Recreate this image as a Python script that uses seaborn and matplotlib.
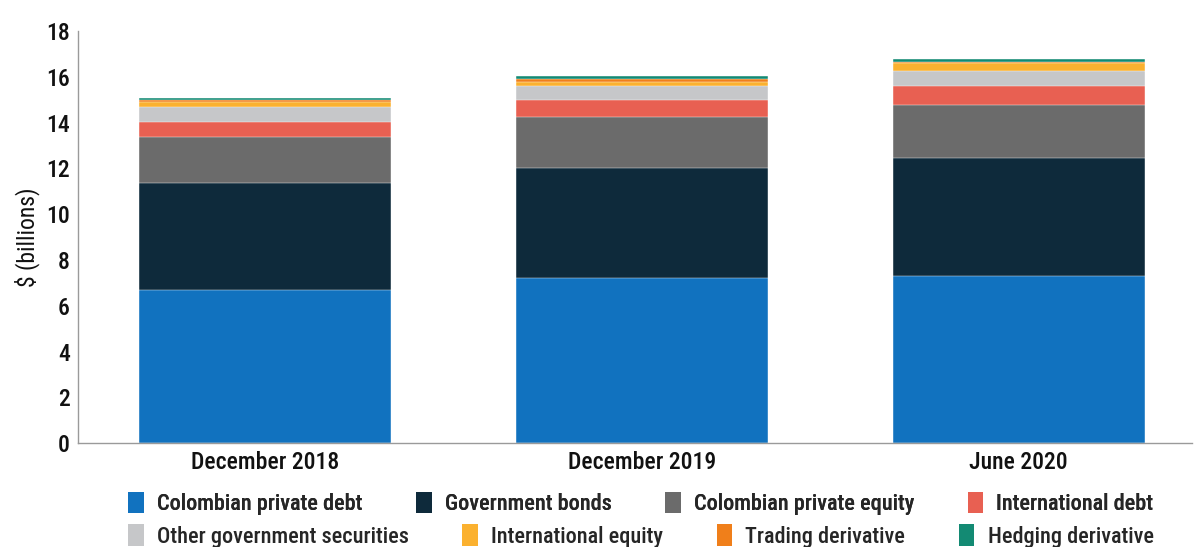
import matplotlib
matplotlib.use("Agg")
import matplotlib.pyplot as plt
import seaborn as sns
import numpy as np
import pandas as pd
from matplotlib.patches import Patch
from matplotlib import font_manager

categories = ["December 2018", "December 2019", "June 2020"]
series_names = ["Colombian private debt", "Government bonds", "Colombian private equity",
                "International debt", "Other government securities", "International equity",
                "Trading derivative", "Hedging derivative"]
colombian_private_debt = [6.68, 7.21, 7.30]
government_bonds = [4.68, 4.80, 5.15]
colombian_private_equity = [2.02, 2.25, 2.32]
international_debt = [0.66, 0.72, 0.84]
other_government_securities = [0.63, 0.63, 0.64]
international_equity = [0.23, 0.18, 0.36]
trading_derivative = [0.08, 0.14, 0.06]
hedging_derivative = [0.12, 0.13, 0.13]
colors = ["#1172BF", "#0E2A3B", "#6B6B6B", "#E86052", "#C6C7C9", "#FBB12F", "#F07F1A", "#138A73"]

values = [colombian_private_debt, government_bonds, colombian_private_equity,
          international_debt, other_government_securities, international_equity,
          trading_derivative, hedging_derivative]

sns.set_style("white")
names = sorted({f.name for f in font_manager.fontManager.ttflist})
narrow = None
for cand in ["Roboto Condensed", "Liberation Sans Narrow", "Open Sans Condensed", "DejaVu Sans Condensed"]:
    if cand in names:
        narrow = cand
        break
if narrow:
    plt.rcParams['font.family'] = [narrow, 'DejaVu Sans']
else:
    plt.rcParams['font.family'] = ['DejaVu Sans']
    plt.rcParams['font.stretch'] = 'condensed'
plt.rcParams['font.weight'] = 'medium'

fig = plt.figure(figsize=(11.98, 5.47), dpi=100)
ax = fig.add_axes([0.0651, 0.190, 0.93, 0.753])

cum = np.cumsum(np.array(values), axis=0)
for i in range(len(series_names) - 1, -1, -1):
    df = pd.DataFrame({"cat": categories, "val": cum[i]})
    sns.barplot(data=df, x="cat", y="val", color=colors[i], width=0.67, ax=ax,
                saturation=1, edgecolor="white", linewidth=0.3, zorder=2)

ax.set_xlim(-0.497, 2.46)
ax.set_ylim(0, 18)
ax.set_yticks(range(0, 19, 2))
ax.set_xlabel("")
ax.tick_params(axis="both", length=0, labelsize=17, colors="#111111", pad=6)
ax.set_ylabel("$ (billions)", fontsize=17, color="#111111", labelpad=4)
for s in ["top", "right"]:
    ax.spines[s].set_visible(False)
for s in ["left", "bottom"]:
    ax.spines[s].set_color("#9a9a9a")
    ax.spines[s].set_linewidth(1)

fs = 16 if narrow else 14
handles = [Patch(facecolor=c, edgecolor="none") for c in colors]
kw = dict(loc="center", ncol=4, frameon=False, fontsize=fs, handlelength=0.7,
          handleheight=1.1, columnspacing=2.4, handletextpad=0.6)
leg1 = fig.legend(handles[:4], series_names[:4], bbox_to_anchor=(0.535, 0.080), **kw)
fig.add_artist(leg1)
leg2 = fig.legend(handles[4:], series_names[4:], bbox_to_anchor=(0.535, 0.020), **kw)

fig.savefig("out.png", dpi=100)
